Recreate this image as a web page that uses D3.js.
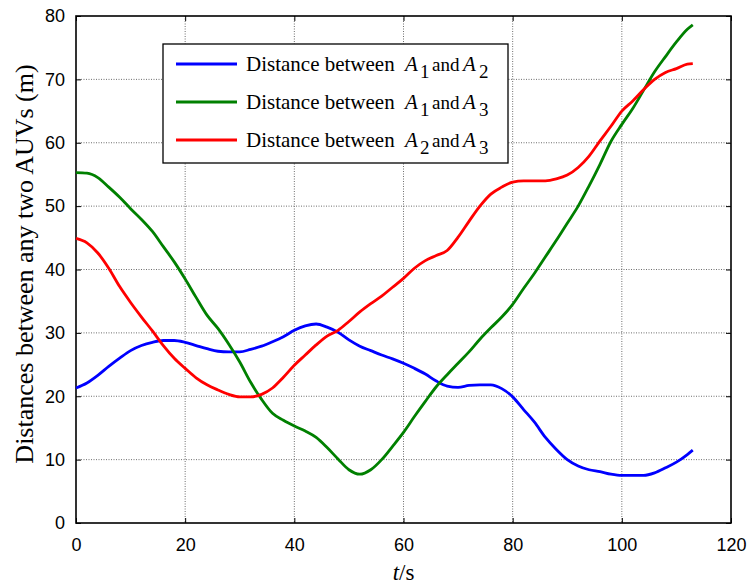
<!DOCTYPE html>
<html>
<head>
<meta charset="utf-8">
<script src="https://cdn.jsdelivr.net/npm/d3@7"></script>
<style>
  body { margin: 0; background: #fff; }
  svg { display: block; }
  .serif { font-family: "Liberation Serif", "Times New Roman", "DejaVu Serif", serif; }
  .sans { font-family: "Liberation Sans", Arial, sans-serif; }
</style>
</head>
<body>
<div id="chart"></div>
<script>
// ---- data ----
const times = [0,2,4,6,8,10,12,14,16,18,20,22,24,26,28,30,32,34,36,38,40,42,44,46,48,50,52,54,56,58,
  60,62,64,66,68,70,72,74,76,78,80,82,84,86,88,90,92,94,96,98,100,102,104,106,108,110,112,113];

const dist12 = [21.3,22.1,23.3,24.7,26.0,27.2,28.0,28.5,28.8,28.8,28.5,28.0,27.5,27.1,27.0,27.0,27.4,27.9,28.6,29.4,
  30.4,31.1,31.4,30.9,30.1,28.9,27.9,27.2,26.5,25.9,25.2,24.4,23.5,22.4,21.6,21.4,21.7,21.8,21.8,21.2,
  19.9,17.9,15.9,13.5,11.6,10.0,9.0,8.4,8.1,7.7,7.5,7.5,7.5,7.9,8.7,9.6,10.8,11.5];

const dist13 = [55.3,55.2,54.5,53.0,51.4,49.6,47.9,46.0,43.6,41.2,38.5,35.6,32.8,30.7,28.2,25.4,22.2,19.5,17.3,16.2,
  15.3,14.5,13.5,11.9,10.1,8.4,7.7,8.4,10.0,12.1,14.3,16.8,19.2,21.5,23.4,25.2,27.0,29.0,30.8,32.5,
  34.5,37.0,39.4,42.0,44.6,47.3,50.0,53.2,56.6,60.2,62.9,65.4,68.3,71.2,73.6,75.9,77.9,78.6];

const dist23 = [44.9,44.2,42.6,40.2,37.3,34.8,32.5,30.3,28.0,26.0,24.4,22.9,21.8,21.0,20.3,19.9,19.9,20.3,21.3,23.0,
  24.9,26.5,28.1,29.5,30.4,31.8,33.3,34.6,35.8,37.2,38.6,40.2,41.4,42.2,43.0,45.1,47.6,50.0,51.9,53.0,
  53.8,54.0,54.0,54.0,54.3,54.9,56.1,57.9,60.3,62.6,65.0,66.6,68.4,70.0,71.1,71.7,72.4,72.5];

const xTicks = [0, 20, 40, 60, 80, 100, 120];
const yTicks = [0, 10, 20, 30, 40, 50, 60, 70, 80];

const seriesNames = [["1", "2"], ["1", "3"], ["2", "3"]];
const seriesColors = ["#0000ff", "#008000", "#ff0000"];
const seriesValues = [dist12, dist13, dist23];

// ---- layout ----
const width = 752, height = 587;
const margin = { top: 16, right: 21, bottom: 64, left: 76 };
const innerW = width - margin.left - margin.right;
const innerH = height - margin.top - margin.bottom;

const svg = d3.select("#chart").append("svg")
  .attr("width", width)
  .attr("height", height);

const g = svg.append("g")
  .attr("transform", `translate(${margin.left},${margin.top})`);

const x = d3.scaleLinear().domain([0, 120]).range([0, innerW]);
const y = d3.scaleLinear().domain([0, 80]).range([innerH, 0]);

// grid (dotted, matlab style)
g.append("g")
  .selectAll("line.vgrid")
  .data(xTicks.slice(1, -1))
  .join("line")
  .attr("x1", d => x(d)).attr("x2", d => x(d))
  .attr("y1", 0).attr("y2", innerH)
  .attr("stroke", "#6e6e6e")
  .attr("stroke-width", 1)
  .attr("stroke-dasharray", "1,1.5");

g.append("g")
  .selectAll("line.hgrid")
  .data(yTicks.slice(1, -1))
  .join("line")
  .attr("x1", 0).attr("x2", innerW)
  .attr("y1", d => y(d)).attr("y2", d => y(d))
  .attr("stroke", "#6e6e6e")
  .attr("stroke-width", 1)
  .attr("stroke-dasharray", "1,1.5");

// axes, ticks inward on all sides
const tickLen = 5;

const xAxis = g.append("g")
  .attr("transform", `translate(0,${innerH})`)
  .call(d3.axisBottom(x).tickValues(xTicks).tickSize(-tickLen).tickPadding(tickLen + 10));
const yAxis = g.append("g")
  .call(d3.axisLeft(y).tickValues(yTicks).tickSize(-tickLen).tickPadding(tickLen + 6));
const xTop = g.append("g")
  .call(d3.axisTop(x).tickValues(xTicks).tickSize(-tickLen).tickFormat(""));
const yRight = g.append("g")
  .attr("transform", `translate(${innerW},0)`)
  .call(d3.axisRight(y).tickValues(yTicks).tickSize(-tickLen).tickFormat(""));

[xAxis, yAxis, xTop, yRight].forEach(a => {
  a.attr("font-family", null).attr("font-size", null);
  a.select(".domain").remove();
  a.selectAll(".tick line").attr("stroke", "#000").attr("stroke-width", 1);
  a.selectAll(".tick text")
    .attr("class", "sans")
    .attr("font-size", 18)
    .attr("fill", "#000");
});

// box
g.append("rect")
  .attr("x", 0).attr("y", 0)
  .attr("width", innerW).attr("height", innerH)
  .attr("fill", "none")
  .attr("stroke", "#000")
  .attr("stroke-width", 1.6);

// lines
const line = d3.line()
  .x((d, i) => x(times[i]))
  .y(d => y(d))
  .curve(d3.curveMonotoneX);

seriesValues.forEach((vals, k) => {
  g.append("path")
    .datum(vals)
    .attr("d", line)
    .attr("fill", "none")
    .attr("stroke", seriesColors[k])
    .attr("stroke-width", 2.8)
    .attr("stroke-linejoin", "round");
});

// legend
const legend = svg.append("g").attr("transform", "translate(163,44)");
legend.append("rect")
  .attr("width", 345).attr("height", 119)
  .attr("fill", "#fff")
  .attr("stroke", "#000")
  .attr("stroke-width", 1.3);

seriesNames.forEach((p, i) => {
  const cy = 20 + i * 38;
  legend.append("line")
    .attr("x1", 13).attr("x2", 74)
    .attr("y1", cy).attr("y2", cy)
    .attr("stroke", seriesColors[i])
    .attr("stroke-width", 2.8);
  const t = legend.append("text")
    .attr("class", "serif")
    .attr("y", cy + 7)
    .attr("font-size", 21)
    .attr("fill", "#000");
  t.append("tspan").attr("x", 83).text("Distance between");
  t.append("tspan").attr("x", 242).attr("font-style", "italic").text("A");
  t.append("tspan").attr("x", 257).attr("dy", 7).attr("font-size", 19).text(p[0]);
  t.append("tspan").attr("x", 269).attr("dy", -7).attr("font-size", 19).text("and");
  t.append("tspan").attr("x", 300).attr("font-style", "italic").text("A");
  t.append("tspan").attr("x", 316).attr("dy", 7).attr("font-size", 19).text(p[1]);
});

// axis labels
svg.append("text")
  .attr("class", "serif")
  .attr("transform", "translate(33,264) rotate(-90)")
  .attr("text-anchor", "middle")
  .attr("font-size", 26)
  .attr("fill", "#000")
  .text("Distances between any two AUVs (m)");

const xl = svg.append("text")
  .attr("class", "serif")
  .attr("x", margin.left + innerW / 2)
  .attr("y", 580)
  .attr("text-anchor", "middle")
  .attr("font-size", 23)
  .attr("fill", "#000");
xl.append("tspan").attr("font-style", "italic").text("t");
xl.append("tspan").text("/s");
</script>
</body>
</html>
